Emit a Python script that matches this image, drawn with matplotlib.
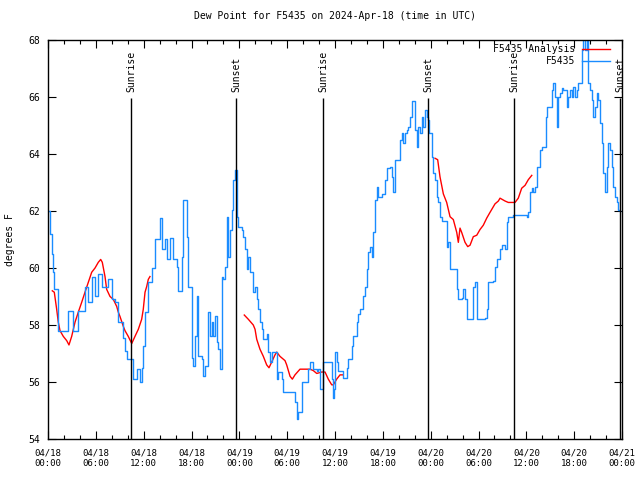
import matplotlib
matplotlib.use("Agg")
import matplotlib.pyplot as plt
import matplotlib.dates as mdates
import numpy as np
import pandas as pd

START = pd.Timestamp("2024-04-18 00:00")

# station observations: hours since start, dew point (F)
obs_hours = [
    0.04, 0.25, 0.46, 0.66, 0.79, 1.09, 1.22, 1.29, 2.35, 2.55, 3.17, 3.80,
    4.64, 5.06, 5.48, 5.90, 6.31, 6.74, 7.56, 7.99, 8.40, 8.82, 9.45, 9.66,
    9.87, 10.50, 10.70, 11.13, 11.54, 11.75, 11.95, 12.17, 12.58, 13.01, 13.42,
    14.05, 14.26, 14.68, 14.89, 15.30, 15.72, 16.14, 16.35, 16.77, 16.97, 17.40,
    17.60, 18.03, 18.23, 18.44, 18.65, 18.85, 19.28, 19.48, 19.69, 20.11, 20.32,
    20.54, 20.74, 20.95, 21.16, 21.36, 21.58, 21.79, 21.99, 22.20, 22.42, 22.62,
    22.83, 23.04, 23.24, 23.46, 23.67, 23.87, 24.30, 24.50, 24.71, 24.92, 25.13,
    25.34, 25.75, 25.97, 26.18, 26.38, 26.59, 26.80, 27.01, 27.43, 27.63, 27.85,
    28.06, 28.47, 28.69, 28.89, 29.32, 29.52, 30.77, 30.98, 31.20, 31.40, 31.61,
    31.82, 32.24, 32.65, 32.87, 33.28, 33.71, 33.91, 34.12, 34.33, 34.53, 35.37,
    35.59, 35.71, 35.88, 36.00, 36.21, 36.42, 36.84, 37.04, 37.26, 37.47, 37.67,
    38.10, 38.30, 38.72, 38.92, 39.14, 39.55, 39.76, 39.98, 40.18, 40.39, 40.61,
    40.81, 41.02, 41.23, 41.43, 41.86, 42.27, 42.49, 42.90, 43.11, 43.31, 43.53,
    43.94, 44.16, 44.37, 44.57, 44.78, 44.99, 45.20, 45.41, 45.62, 45.82, 46.04,
    46.25, 46.45, 46.66, 46.88, 47.08, 47.29, 47.50, 47.63, 47.79, 48.13, 48.33,
    48.55, 48.76, 48.96, 49.17, 49.39, 49.80, 50.01, 50.21, 50.43, 51.05, 51.27,
    51.47, 51.89, 52.09, 52.31, 52.52, 53.15, 53.35, 53.56, 53.78, 54.60, 54.82,
    55.03, 55.23, 55.86, 56.07, 56.28, 56.70, 56.91, 57.33, 57.54, 57.74, 58.37,
    59.42, 60.05, 60.25, 60.46, 60.68, 60.88, 61.09, 61.30, 61.72, 61.93, 62.34,
    62.47, 62.56, 62.97, 63.18, 63.38, 63.60, 63.81, 64.01, 64.22, 64.44, 64.64,
    64.85, 65.07, 65.27, 65.48, 65.69, 65.89, 66.11, 66.32, 66.52, 66.73, 66.95,
    67.15, 67.36, 67.58, 67.78, 67.99, 68.20, 68.40, 68.61, 68.83, 69.03, 69.24,
    69.46, 69.66, 69.87, 70.08, 70.28, 70.49, 70.71, 70.91, 71.12, 71.33, 71.54,
    71.75,
]
obs_dewpt = [
    62.0, 61.2, 60.5, 59.85, 59.25, 59.25, 58.2, 57.8, 57.8, 58.5, 57.8, 58.5,
    59.35, 58.8, 59.7, 59.0, 59.8, 59.35, 59.6, 58.9, 58.8, 58.1, 57.55, 57.1,
    56.8, 56.8, 56.1, 56.45, 56.0, 56.5, 57.25, 58.45, 59.5, 60.0, 61.0,
    61.75, 60.65, 61.0, 60.3, 61.05, 60.3, 60.05, 59.2, 60.4, 62.4, 61.1,
    59.35, 56.85, 56.55, 57.6, 59.0, 56.9, 56.8, 56.2, 56.55, 58.45, 57.6,
    58.1, 57.6, 58.3, 57.4, 57.15, 56.45, 59.7, 59.6, 60.05, 61.8, 60.4,
    61.35, 62.05, 63.1, 63.45, 61.8, 61.45, 61.35, 61.1, 60.65, 59.95, 60.4,
    59.85, 59.15, 59.35, 58.9, 58.55, 58.1, 57.85, 57.5, 57.7, 57.05, 56.7,
    57.05, 57.05, 56.1, 56.35, 56.1, 55.65, 55.65, 55.3, 54.7, 54.95, 54.95,
    56.0, 56.0, 56.45, 56.7, 56.45, 56.4, 56.45, 55.75, 55.75, 56.7, 56.7,
    56.1, 55.45, 55.75, 57.05, 56.7, 56.4, 56.4, 56.15, 56.15, 56.5, 56.8,
    57.25, 57.6, 58.1, 58.4, 58.55, 59.0, 59.35, 59.95, 60.55, 60.75, 60.4,
    61.25, 62.4, 62.85, 62.5, 62.6, 63.1, 63.5, 63.55, 63.2, 62.65, 63.8,
    63.8, 64.5, 64.75, 64.4, 64.75, 64.85, 64.95, 65.3, 65.85, 65.85, 64.85,
    64.25, 64.95, 64.75, 65.3, 64.95, 65.55, 65.3, 65.2, 64.75, 63.9, 63.35,
    63.1, 62.5, 62.3, 61.8, 61.65, 61.65, 60.75, 60.9, 59.95, 59.95, 59.25,
    58.9, 58.95, 59.25, 58.9, 58.2, 58.2, 59.35, 59.5, 58.2, 58.2, 58.25,
    58.55, 59.5, 59.55, 60.05, 60.3, 60.65, 60.8, 60.65, 61.6, 61.8, 61.85,
    61.85, 61.8, 61.95, 62.65, 62.8, 62.65, 62.85, 63.55, 64.15, 64.25, 64.25,
    65.3, 65.65, 65.65, 66.25, 66.5, 66.0, 64.95, 66.0, 66.15, 66.3, 66.25,
    66.25, 65.65, 66.0, 66.25, 66.0, 66.35, 66.0, 66.25, 66.5, 66.5, 67.65,
    68.3, 67.65, 68.3, 66.5, 66.25, 65.9, 65.3, 65.65, 66.15, 65.9, 65.1,
    64.4, 63.35, 62.65, 63.55, 64.4, 64.15, 63.55, 62.85, 62.5, 62.3, 62.05,
    62.0,
]

# analysis: three pieces, nan marks the gaps
ana_hours = [
    0.54, 0.79, 1.09, 1.29, 1.51, 1.92, 2.35, 2.63, 2.97, 3.39, 3.80, 4.23,
    4.64, 5.06, 5.48, 5.90, 6.31, 6.61, 6.81, 7.15, 7.36, 7.78, 8.19, 8.62,
    8.82, 9.03, 9.45, 9.66, 10.07, 10.50, 10.91, 11.33, 11.75, 11.95, 12.17,
    12.38, 12.58, 12.79,
    18.0,
    24.62, 25.13, 25.75, 25.97, 26.18, 26.59, 27.01, 27.43, 27.72, 28.06, 28.47,
    28.69, 29.10, 29.73, 29.94, 30.36, 30.65, 30.98, 31.61, 32.24, 32.87, 33.28,
    33.71, 34.33, 34.75, 35.16, 35.59, 35.79, 36.21, 36.63, 36.97,
    42.0,
    48.55, 48.88, 49.17, 49.59, 50.01, 50.43, 50.84, 51.27, 51.47, 51.68, 51.89,
    52.31, 52.65, 52.94, 53.35, 53.78, 54.19, 54.60, 55.03, 55.44, 56.07, 56.49,
    56.70, 57.33, 57.74, 58.58, 58.99, 59.42, 59.84, 60.25, 60.68,
]
ana_dewpt = [
    59.2, 59.15, 58.55, 58.1, 57.8, 57.6, 57.45, 57.3, 57.6, 58.1, 58.45, 58.8,
    59.15, 59.5, 59.85, 60.0, 60.2, 60.3, 60.2, 59.7, 59.25, 59.0, 58.9, 58.65,
    58.45, 58.3, 57.95, 57.8, 57.6, 57.35, 57.6, 57.85, 58.2, 58.55, 59.15,
    59.35, 59.6, 59.7,
    np.nan,
    58.35, 58.2, 58.0, 57.85, 57.5, 57.15, 56.9, 56.6, 56.5, 56.7, 56.95,
    57.05, 56.9, 56.75, 56.6, 56.2, 56.1, 56.25, 56.45, 56.45, 56.45, 56.4,
    56.3, 56.35, 56.35, 56.1, 55.9, 55.9, 56.1, 56.25, 56.25,
    np.nan,
    63.85, 63.8, 63.2, 62.6, 62.3, 61.8, 61.7, 61.25, 60.9, 61.4, 61.25,
    60.9, 60.75, 60.8, 61.1, 61.15, 61.35, 61.5, 61.75, 61.95, 62.25, 62.35,
    62.45, 62.35, 62.3, 62.3, 62.45, 62.8, 62.9, 63.1, 63.25,
]

event_hours = [10.41, 23.58, 34.50, 47.67, 58.46, 71.75]
event_names = ["Sunrise", "Sunset", "Sunrise", "Sunset", "Sunrise", "Sunset"]

plt.rcParams["font.family"] = "DejaVu Sans Mono"
plt.rcParams["font.size"] = 7


def to_time(hours):
    return START + pd.to_timedelta(np.asarray(hours, dtype=float), unit="h")


fig = plt.figure(figsize=(6.4, 4.8), dpi=100)
ax = fig.add_axes([48 / 640, 41 / 480, 574 / 640, 399 / 480])

ax.plot(to_time(ana_hours), ana_dewpt, color="#ff0000", lw=1, label="F5435 Analysis")
ax.plot(to_time(obs_hours), obs_dewpt, color="#1a8cff", lw=1,
        drawstyle="steps-post", label="F5435")

ev_t = to_time(event_hours)
ax.vlines(ev_t, 54, 65.97, color="black", lw=1)
for t, name in zip(ev_t, event_names):
    ax.text(t, 66.18, name, rotation=90, ha="center", va="bottom")

ax.set_xlim(START, START + pd.Timedelta(hours=72))
ax.set_ylim(54, 68)
ax.set_yticks(np.arange(54, 69, 2))
ax.xaxis.set_major_locator(mdates.HourLocator(byhour=[0, 6, 12, 18]))
ax.xaxis.set_minor_locator(mdates.HourLocator(byhour=range(0, 24, 2)))
ax.xaxis.set_major_formatter(mdates.DateFormatter("%m/%d\n%H:%M"))
ax.tick_params(which="both", direction="in", top=True, right=True, width=0.8)
ax.tick_params(which="major", length=6)
ax.tick_params(which="minor", length=3)
ax.tick_params(axis="x", pad=7, labelsize=6.5)
ax.tick_params(axis="y", pad=6, labelsize=7)
for s in ax.spines.values():
    s.set_linewidth(1)

ax.set_ylabel("degrees F")
ax.yaxis.set_label_coords(-0.058, 0.5)
ax.set_title("Dew Point for F5435 on 2024-Apr-18 (time in UTC)", fontsize=7, pad=15)

ax.legend(loc="upper right", bbox_to_anchor=(1 - 12 / 574, 1 - 4 / 400),
          frameon=False, markerfirst=False, handlelength=2.9,
          handletextpad=0.7, labelspacing=0.25, borderaxespad=0, borderpad=0)

fig.savefig("out.png", dpi=100)
